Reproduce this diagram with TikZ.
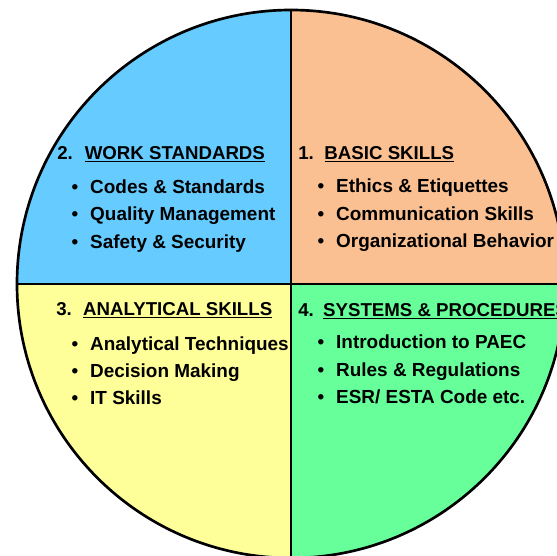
\documentclass[tikz,border=0pt]{standalone}
\usepackage{fontspec}
\setmainfont{Liberation Sans}
\usepackage{xcolor}
\usetikzlibrary{positioning}

\definecolor{skyblue}{RGB}{102,204,255}
\definecolor{peach}{RGB}{250,192,146}
\definecolor{paleyellow}{RGB}{255,255,153}
\definecolor{mintgreen}{RGB}{102,255,153}

\newcommand{\bul}{\makebox[14pt][l]{\textbullet}}

\begin{document}
\begin{tikzpicture}[
    x=0.75pt, y=-0.75pt,
    rim/.style={draw=black, line width=2pt},
    head/.style={anchor=base west, inner sep=0pt, font=\bfseries\fontsize{14}{16}\selectfont},
    item/.style={anchor=base west, inner sep=0pt, font=\bfseries\fontsize{14.2}{16}\selectfont}
]
    \useasboundingbox (0,0) rectangle (557,556);
    \clip (0,0) rectangle (557,556);
    \coordinate (c) at (291,284);

    % the four quarters
    \begin{scope}
        \clip (c) circle (274);
        \fill[skyblue] (c) rectangle (0,0);
        \fill[peach] (c) rectangle (600,0);
        \fill[paleyellow] (c) rectangle (0,600);
        \fill[mintgreen] (c) rectangle (600,600);
    \end{scope}
    \draw[rim] (c) circle (274);
    \draw[rim] (c) -- +(0,-274);
    \draw[rim] (c) -- +(0,274);
    \draw[rim] (c) -- +(-274,0);
    \draw[rim] (c) -- +(274,0);

    % 1. basic skills
    \node[head] (basic) at (298,159.5) {1.\hspace{8pt}\underline{BASIC SKILLS}};
    \node[item] (ethics) at (317.3,192.7) {\bul Ethics \& Etiquettes};
    \node[item] (comm) at (317.3,220) {\bul Communication Skills};
    \node[item] (org) at (317.3,247.4) {\bul Organizational Behavior};

    % 2. work standards
    \node[head] (work) at (57,159.5) {2.\hspace{9pt}\underline{WORK STANDARDS}};
    \node[item] (codes) at (71.3,193.4) {\bul Codes \& Standards};
    \node[item] (quality) at (71.3,221) {\bul Quality Management};
    \node[item] (safety) at (71.3,248.7) {\bul Safety \& Security};

    % 3. analytical skills
    \node[head] (analytic) at (56,315) {3.\hspace{8.5pt}\underline{ANALYTICAL SKILLS}};
    \node[item] (tech) at (71.3,350) {\bul Analytical Techniques};
    \node[item] (decision) at (71.3,377.5) {\bul Decision Making};
    \node[item] (itsk) at (71.3,404.5) {\bul IT Skills};

    % 4. systems & procedures
    \node[head] (systems) at (298,316.5) {4.\hspace{7pt}\underline{SYSTEMS \& PROCEDURES}};
    \node[item] (intro) at (317.3,348.5) {\bul Introduction to PAEC};
    \node[item] (rules) at (317.3,376) {\bul Rules \& Regulations};
    \node[item] (esr) at (317.3,403.5) {\bul ESR/ ESTA Code etc.};
\end{tikzpicture}
\end{document}
